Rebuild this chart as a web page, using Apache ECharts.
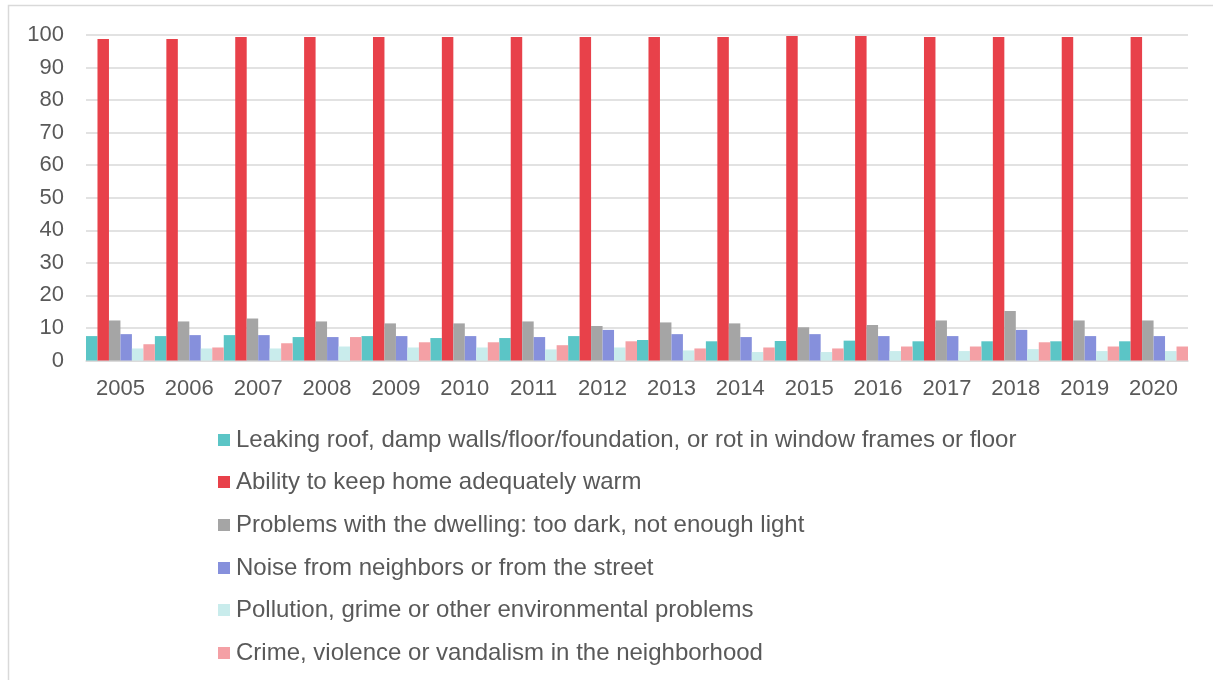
<!DOCTYPE html>
<html>
<head>
<meta charset="utf-8">
<script src="https://cdn.jsdelivr.net/npm/echarts@6/dist/echarts.min.js"></script>
<style>
  html, body { margin: 0; padding: 0; background: #fff; }
  #chart { width: 1213px; height: 680px; }
</style>
</head>
<body>
<div id="chart"></div>
<script>
// Housing conditions, share of population (%), 2005–2020
const years = ['2005','2006','2007','2008','2009','2010','2011','2012','2013','2014','2015','2016','2017','2018','2019','2020'];

const leakingRoof = [7.5, 7.5, 7.8, 7.2, 7.5, 6.9, 6.9, 7.5, 6.3, 5.9, 6.0, 6.1, 5.9, 5.9, 5.9, 5.9];
const keepWarm    = [98.8, 98.8, 99.4, 99.4, 99.4, 99.4, 99.4, 99.4, 99.4, 99.4, 99.7, 99.7, 99.4, 99.4, 99.4, 99.4];
const tooDark     = [12.3, 12.0, 12.9, 12.0, 11.4, 11.4, 12.0, 10.6, 11.7, 11.4, 10.2, 10.9, 12.3, 15.2, 12.3, 12.3];
const noise       = [8.1, 7.8, 7.8, 7.2, 7.5, 7.5, 7.2, 9.4, 8.1, 7.2, 8.1, 7.5, 7.5, 9.4, 7.5, 7.5];
const pollution   = [3.7, 3.7, 3.7, 4.3, 4.0, 4.0, 3.4, 4.0, 3.1, 2.6, 2.6, 2.9, 2.9, 3.5, 2.9, 2.9];
const crime       = [5.0, 4.0, 5.3, 7.2, 5.6, 5.6, 4.7, 5.9, 3.7, 4.0, 3.7, 4.3, 4.3, 5.6, 4.3, 4.3];

const seriesNames = [
  'Leaking roof, damp walls/floor/foundation, or rot in window frames or floor',
  'Ability to keep home adequately warm',
  'Problems with the dwelling: too dark, not enough light',
  'Noise from neighbors or from the street',
  'Pollution, grime or other environmental problems',
  'Crime, violence or vandalism in the neighborhood'
];
const seriesData = [leakingRoof, keepWarm, tooDark, noise, pollution, crime];
const colors = ['#5BC5C6', '#E8414A', '#A5A5A5', '#8690DC', '#C9ECEC', '#F4A0A5'];

const yTicks = { min: 0, max: 100, interval: 10 };

const chart = echarts.init(document.getElementById('chart'), null, { renderer: 'canvas' });

const font = 'Liberation Sans, Arial, sans-serif';
// vertical centre of each legend row
const legendCenters = [440, 482, 525, 568, 610, 653];

chart.setOption({
  animation: false,
  color: colors,
  graphic: [{
    type: 'rect',
    silent: true,
    shape: { x: 8.5, y: 5.5, width: 1300, height: 800 },
    style: { fill: 'none', stroke: '#d9d9d9', lineWidth: 1.5 }
  }],
  grid: { left: 86, right: 25, top: 35, bottom: 319.5, containLabel: false },
  legend: seriesNames.map((name, i) => ({
    data: [name],
    left: 218,
    top: legendCenters[i] - 12,
    padding: 0,
    itemWidth: 12,
    itemHeight: 12,
    itemGap: 0,
    icon: 'rect',
    textStyle: { color: '#595959', fontSize: 24, lineHeight: 24, fontFamily: font, padding: [0, 0, 0, 1] },
    selectedMode: false
  })),
  xAxis: {
    type: 'category',
    data: years,
    axisTick: { show: false },
    axisLine: { lineStyle: { color: '#d9d9d9', width: 1.5 } },
    axisLabel: { color: '#595959', fontSize: 22, fontFamily: font, margin: 17 }
  },
  yAxis: {
    type: 'value',
    min: yTicks.min,
    max: yTicks.max,
    interval: yTicks.interval,
    axisLine: { show: false },
    axisTick: { show: false },
    splitLine: { lineStyle: { color: '#d9d9d9', width: 1.5 } },
    axisLabel: { color: '#595959', fontSize: 22, fontFamily: font, margin: 22 }
  },
  series: seriesData.map((d, i) => ({
    name: seriesNames[i],
    type: 'bar',
    data: d,
    barGap: '0%',
    barCategoryGap: '0%',
    itemStyle: { color: colors[i] }
  }))
});
</script>
</body>
</html>
